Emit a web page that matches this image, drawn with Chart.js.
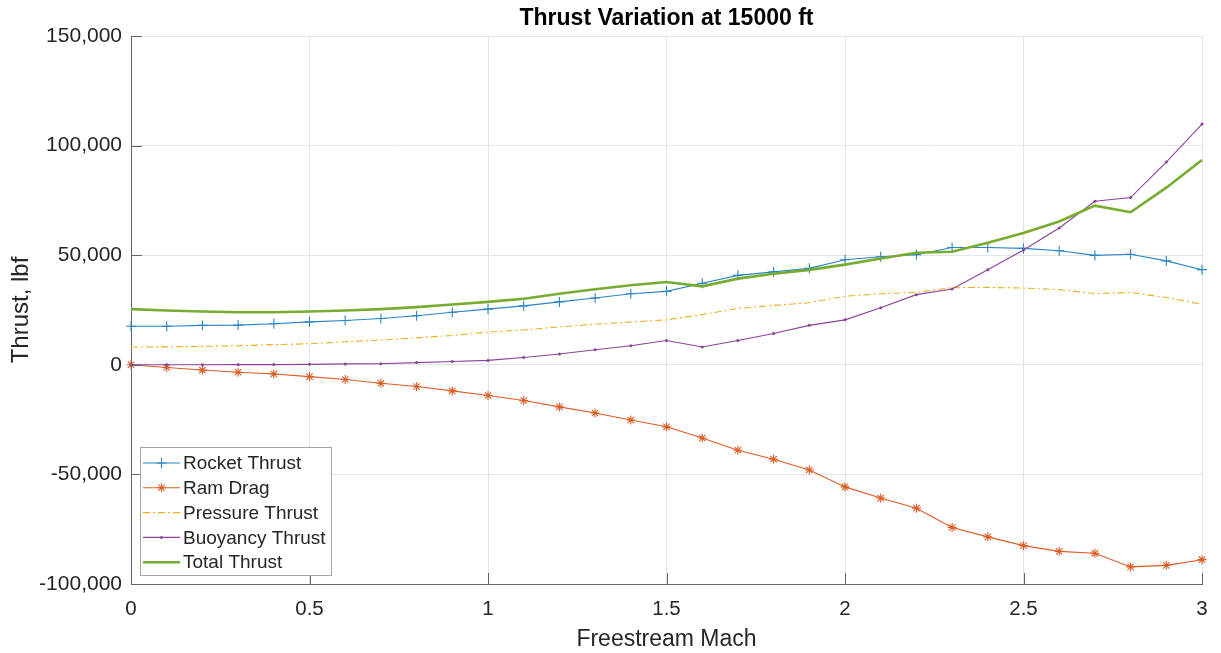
<!DOCTYPE html>
<html>
<head>
<meta charset="utf-8">
<script src="https://cdn.jsdelivr.net/npm/chart.js@4.4.1/dist/chart.umd.min.js"></script>
<style>
  html, body { margin: 0; padding: 0; background: #fff; }
  #wrap { width: 1221px; height: 653px; position: relative; }
</style>
</head>
<body>
<div id="wrap"><canvas id="c" width="1221" height="653"></canvas></div>
<script>
const mach = [0,0.1,0.2,0.3,0.4,0.5,0.6,0.7,0.8,0.9,1.0,1.1,1.2,1.3,1.4,1.5,1.6,1.7,1.8,1.9,2.0,2.1,2.2,2.3,2.4,2.5,2.6,2.7,2.8,2.9,3.0];
const rocketThrust = [17600,17600,18000,18100,18700,19600,20200,21100,22400,24000,25400,26900,28700,30500,32400,33500,37200,40800,42400,44000,47900,49300,50200,53500,53500,53100,52000,49900,50400,47400,43400];
const ramDrag = [0,-1200,-2400,-3400,-4200,-5400,-6700,-8400,-9900,-11900,-14000,-16300,-19200,-22000,-25200,-28300,-33400,-39000,-43100,-48000,-55700,-60800,-65400,-74200,-78500,-82500,-85100,-86000,-92200,-91500,-88900];
const pressureThrust = [8100,8200,8400,8700,9200,9600,10500,11300,12300,13400,14900,15900,17300,18500,19500,20500,22900,25700,27100,28300,31300,32400,33100,35200,35300,35000,34300,32500,33000,30700,27600];
const buoyancyThrust = [0,0,0,100,100,200,400,500,1000,1500,2000,3300,4900,6900,8700,11100,8100,11100,14300,18000,20500,26000,32000,34600,43400,52400,62400,74600,76300,92500,109800];
const totalThrust = [25400,24800,24300,24000,24000,24300,24800,25400,26300,27500,28700,30100,32400,34500,36300,37800,35800,39300,41500,43300,45700,48500,51100,51600,55700,60100,65400,72600,69600,80800,93400];
const yTicks = [-100000,-50000,0,50000,100000,150000];
const xTicks = [0,0.5,1,1.5,2,2.5,3];
const seriesLabels = ['Rocket Thrust','Ram Drag','Pressure Thrust','Buoyancy Thrust','Total Thrust'];
const chartTitle = 'Thrust Variation at 15000 ft';
const xTitle = 'Freestream Mach';
const yTitle = 'Thrust, lbf';

const FONT = "'Liberation Sans', Arial, Helvetica, sans-serif";
const TXT = '#262626';

function pts(ys){ return mach.map((x,i)=>({x:x,y:ys[i]})); }

const datasets = [
  {label: seriesLabels[0], data: pts(rocketThrust), borderColor:'#2a84c6', backgroundColor:'#2a84c6', borderWidth:1.1,
   pointStyle:'cross', pointRadius:5, pointBorderWidth:1.1, order:5},
  {label: seriesLabels[1], data: pts(ramDrag), borderColor:'#dc5c26', backgroundColor:'#dc5c26', borderWidth:1.1,
   pointStyle:'star', pointRadius:4.5, pointBorderWidth:1.1, order:4},
  {label: seriesLabels[2], data: pts(pressureThrust), borderColor:'#EDB120', backgroundColor:'#EDB120', borderWidth:1.1,
   borderDash:[7,3,2,3], pointRadius:0, order:3},
  {label: seriesLabels[3], data: pts(buoyancyThrust), borderColor:'#8a4399', backgroundColor:'#8a4399', borderWidth:1.1,
   pointStyle:'circle', pointRadius:1.5, pointBorderWidth:0, order:2},
  {label: seriesLabels[4], data: pts(totalThrust), borderColor:'#77AC30', backgroundColor:'#77AC30', borderWidth:2.6,
   pointRadius:0, order:1}
];
datasets.forEach(d=>{ d.clip=false; d.tension=0; d.fill=false; d.pointHoverRadius=d.pointRadius; });

const inwardTicks = {
  id:'inwardTicks',
  afterDraw(chart){
    const {ctx, chartArea:a, scales:{x,y}} = chart;
    ctx.save();
    ctx.strokeStyle = '#666';
    ctx.lineWidth = 1;
    ctx.beginPath();
    yTicks.forEach(v=>{ const py = Math.round(y.getPixelForValue(v))+0.5; ctx.moveTo(a.left, py); ctx.lineTo(a.left+11, py); });
    xTicks.forEach(v=>{ const px = Math.round(x.getPixelForValue(v))+0.5; ctx.moveTo(px, a.bottom); ctx.lineTo(px, a.bottom-11); });
    ctx.stroke();
    ctx.restore();
  }
};

const axesTitle = {
  id:'axesTitle',
  afterDraw(chart){
    const {ctx, chartArea:a} = chart;
    ctx.save();
    ctx.font = "bold 23px " + FONT;
    ctx.fillStyle = '#000';
    ctx.textAlign = 'center';
    ctx.textBaseline = 'middle';
    ctx.fillText(chartTitle, (a.left + a.right)/2, 19);
    ctx.restore();
  }
};

function drawMarker(ctx, style, cx, cy, r, color){
  ctx.save();
  ctx.strokeStyle = color; ctx.fillStyle = color; ctx.lineWidth = 1.1; ctx.setLineDash([]);
  ctx.beginPath();
  if (style === 'cross' || style === 'star') {
    ctx.moveTo(cx-r, cy); ctx.lineTo(cx+r, cy); ctx.moveTo(cx, cy-r); ctx.lineTo(cx, cy+r);
    if (style === 'star') { const d = r*0.707; ctx.moveTo(cx-d, cy-d); ctx.lineTo(cx+d, cy+d); ctx.moveTo(cx-d, cy+d); ctx.lineTo(cx+d, cy-d); }
    ctx.stroke();
  } else if (style === 'circle') {
    ctx.arc(cx, cy, r, 0, Math.PI*2); ctx.fill();
  }
  ctx.restore();
}

const boxLegend = {
  id:'boxLegend',
  afterDraw(chart){
    const ctx = chart.ctx;
    const bx = 140.5, by = 447.5, bw = 191, bh = 128;
    ctx.save();
    ctx.fillStyle = '#fff';
    ctx.fillRect(bx, by, bw, bh);
    ctx.strokeStyle = '#a6a6a6'; ctx.lineWidth = 1;
    ctx.strokeRect(bx, by, bw, bh);
    ctx.font = "19px " + FONT;
    ctx.textBaseline = 'middle';
    ctx.textAlign = 'left';
    chart.data.datasets.forEach((d,i)=>{
      const cy = 463 + i*24.8;
      ctx.save();
      ctx.strokeStyle = d.borderColor; ctx.lineWidth = d.borderWidth;
      ctx.setLineDash(d.borderDash || []);
      ctx.beginPath(); ctx.moveTo(143, cy); ctx.lineTo(180, cy); ctx.stroke();
      ctx.restore();
      if (d.pointRadius > 0) drawMarker(ctx, d.pointStyle, 161.5, cy, d.pointRadius, d.borderColor);
      ctx.fillStyle = TXT;
      ctx.fillText(d.label, 183, cy+1);
    });
    ctx.restore();
  }
};

new Chart(document.getElementById('c'), {
  type:'line',
  data:{ datasets },
  options:{
    responsive:false,
    animation:false,
    events:[],
    layout:{ padding:{ left:0, right:19, top:36, bottom:0 } },
    plugins:{
      legend:{ display:false },
      tooltip:{ enabled:false },
      title:{ display:false }
    },
    scales:{
      x:{ type:'linear', min:0, max:3,
          afterBuildTicks(s){ s.ticks = xTicks.map(v=>({value:v})); },
          afterFit(s){ s.height = 69; },
          ticks:{ color:TXT, font:{ family:FONT, size:20.5 }, padding:13, maxRotation:0,
                  callback:(v)=> String(v) },
          grid:{ color:'#e4e4e4', lineWidth:1, drawTicks:false },
          border:{ display:true, color:'#666', width:1 },
          title:{ display:true, text:xTitle, color:TXT, font:{ family:FONT, size:23, lineHeight:1 }, padding:{ top:0, bottom:2 } }
      },
      y:{ type:'linear', min:-100000, max:150000,
          afterBuildTicks(s){ s.ticks = yTicks.map(v=>({value:v})); },
          afterFit(s){ s.width = 131; },
          ticks:{ color:TXT, font:{ family:FONT, size:21 }, padding:9,
                  callback:(v)=> v.toLocaleString('en-US') },
          grid:{ color:'#e4e4e4', lineWidth:1, drawTicks:false },
          border:{ display:true, color:'#666', width:1 },
          title:{ display:true, text:yTitle, color:TXT, font:{ family:FONT, size:24, lineHeight:1.2 }, padding:{ top:7, bottom:0 } }
      }
    }
  },
  plugins:[inwardTicks, boxLegend, axesTitle]
});
</script>
</body>
</html>
